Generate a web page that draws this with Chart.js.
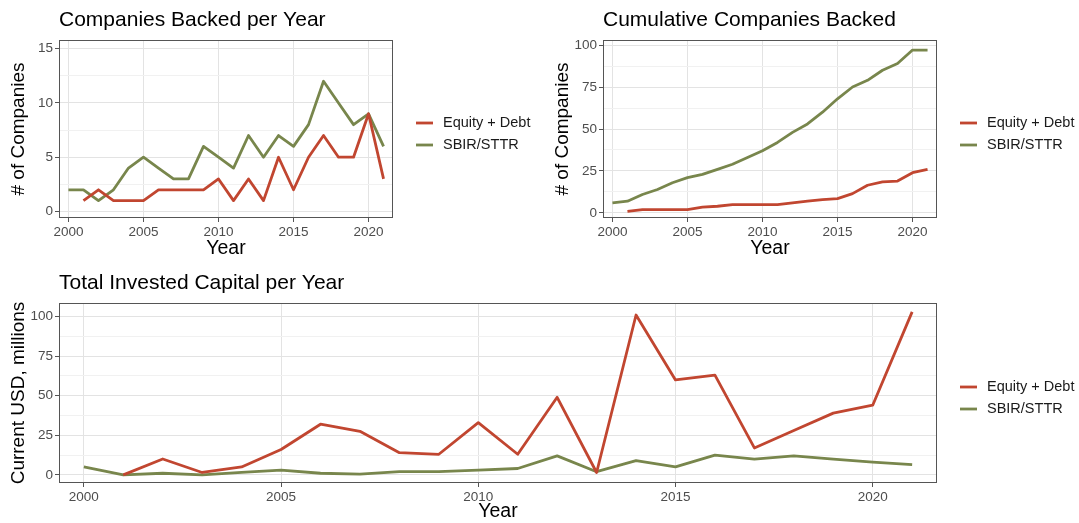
<!DOCTYPE html>
<html>
<head>
<meta charset="utf-8">
<title>Companies backed and invested capital</title>
<script src="https://cdn.jsdelivr.net/npm/chart.js@4.4.0/dist/chart.umd.min.js"></script>
<style>
    body { margin: 0; background: #fff; }
    .panel { position: absolute; }
</style>
</head>
<body>
<div class="panel" style="left:0;top:0;width:545px;height:265px"><canvas id="chart-per-year"></canvas></div>
<div class="panel" style="left:545px;top:0;width:534px;height:265px"><canvas id="chart-cumulative"></canvas></div>
<div class="panel" style="left:0;top:265px;width:1079px;height:258px"><canvas id="chart-capital"></canvas></div>
<script>
const years = [2000, 2001, 2002, 2003, 2004, 2005, 2006, 2007, 2008, 2009, 2010,
    2011, 2012, 2013, 2014, 2015, 2016, 2017, 2018, 2019, 2020, 2021];
const yearTicks = [2000, 2005, 2010, 2015, 2020];
const seriesNames = ['Equity + Debt', 'SBIR/STTR'];

const companiesEquity = [null, 1, 2, 1, 1, 1, 2, 2, 2, 2, 3, 1, 3, 1, 5, 2, 5, 7, 5, 5, 9, 3];
const companiesSbir = [2, 2, 1, 2, 4, 5, 4, 3, 3, 6, 5, 4, 7, 5, 7, 6, 8, 12, 10, 8, 9, 6];
const companiesTicks = [0, 5, 10, 15];

const cumulativeEquity = [null, 1, 2, 2, 2, 2, 3.5, 4, 5, 5, 5, 5, 6, 7, 8, 8.5, 11.5, 16.5, 18.5, 19, 24, 26];
const cumulativeSbir = [6, 7, 11, 14, 18, 21, 23, 26, 29, 33, 37, 42, 48, 53, 60, 68, 75, 79, 85, 89, 97, 97];
const cumulativeTicks = [0, 25, 50, 75, 100];

const capitalEquity = [null, 0, 10, 1.5, 5, 16, 32, 27.5, 14, 13, 33, 13, 49, 1.5, 101, 60, 63, 17, 28, 39, 44, 103];
const capitalSbir = [5, 0, 1, 0, 1.5, 3, 1, 0.5, 2, 2, 3, 4, 12, 2, 9, 5, 12.5, 10, 12, 10, 8, 6.5];
const capitalTicks = [0, 25, 50, 75, 100];

const red = 'rgb(193, 70, 48)';
const green = 'rgb(120, 134, 76)';
const fontFamily = "'Liberation Sans', Arial, sans-serif";

Chart.defaults.font.family = fontFamily;

// dark frame round the panel, like theme_bw
const framePlugin = {
    id: 'frame',
    afterDraw(chart) {
        const a = chart.chartArea;
        const ctx = chart.ctx;
        ctx.save();
        ctx.strokeStyle = '#555';
        ctx.lineWidth = 1;
        ctx.strokeRect(Math.round(a.left) + 0.5, Math.round(a.top) + 0.5,
            Math.round(a.right - a.left) - 1, Math.round(a.bottom - a.top) - 1);
        ctx.restore();
    }
};

// ggplot style legend to the right of the panel
const sideLegend = {
    id: 'sideLegend',
    afterDraw(chart) {
        const a = chart.chartArea;
        const ctx = chart.ctx;
        const x = a.right + 23;
        let y = (a.top + a.bottom) / 2 - 6;
        ctx.save();
        ctx.font = '14.5px ' + fontFamily;
        ctx.textBaseline = 'middle';
        chart.data.datasets.forEach(ds => {
            ctx.strokeStyle = ds.borderColor;
            ctx.lineWidth = 2.8;
            ctx.beginPath();
            ctx.moveTo(x, y);
            ctx.lineTo(x + 17, y);
            ctx.stroke();
            ctx.fillStyle = '#1a1a1a';
            ctx.fillText(ds.label, x + 27, y);
            y += 22;
        });
        ctx.restore();
    }
};

function points(values) {
    return years.map((yr, i) => ({ x: yr, y: values[i] }));
}

function withMinor(major) {
    const ticks = [];
    major.forEach((v, i) => {
        ticks.push({ value: v });
        if (i < major.length - 1) ticks.push({ value: (v + major[i + 1]) / 2, minor: true });
    });
    return ticks;
}

function makeDatasets(equity, sbir) {
    return [
        { label: seriesNames[0], data: points(equity), borderColor: red, backgroundColor: red },
        { label: seriesNames[1], data: points(sbir), borderColor: green, backgroundColor: green }
    ].map(ds => Object.assign(ds, {
        borderWidth: 2.8, pointRadius: 0, tension: 0, borderJoinStyle: 'round', spanGaps: false
    }));
}

function panelOptions(cfg) {
    return {
        responsive: true,
        maintainAspectRatio: false,
        animation: false,
        layout: { padding: cfg.padding },
        plugins: {
            legend: { display: false },
            tooltip: { enabled: false },
            title: {
                display: true,
                text: cfg.title,
                align: 'start',
                fullSize: false,
                color: '#000',
                font: { size: 21, weight: 'normal' },
                padding: cfg.titlePadding
            }
        },
        scales: {
            x: {
                type: 'linear',
                min: 1999.37,
                max: 2021.63,
                afterBuildTicks: s => { s.ticks = yearTicks.map(v => ({ value: v })); },
                afterFit: s => { s.height = cfg.xHeight; },
                border: { display: false },
                grid: { color: '#e3e3e3', lineWidth: 1, tickColor: '#555', tickLength: 4 },
                ticks: {
                    color: '#4d4d4d', font: { size: 13.5 }, padding: 2,
                    maxRotation: 0, autoSkip: false, callback: v => v
                },
                title: { display: true, text: 'Year', color: '#000', font: { size: 19.5 }, padding: 0 }
            },
            y: {
                min: cfg.yMin,
                max: cfg.yMax,
                afterBuildTicks: s => { s.ticks = withMinor(cfg.yTicks); },
                afterFit: s => { s.width = 52; },
                border: { display: false },
                grid: {
                    color: c => c.tick && c.tick.minor ? '#f1f1f1' : '#e3e3e3',
                    lineWidth: 1,
                    tickColor: c => c.tick && c.tick.minor ? 'rgba(0,0,0,0)' : '#555',
                    tickLength: 4
                },
                ticks: {
                    color: '#4d4d4d', font: { size: 13.5 }, padding: 2, autoSkip: false,
                    callback: (v, i, ticks) => ticks[i].minor ? '' : v
                },
                title: { display: true, text: cfg.yTitle, color: '#000', font: { size: 19 }, padding: 0 }
            }
        }
    };
}

window.addEventListener('load', onLoad);

function onLoad() {
    new Chart(document.getElementById('chart-per-year'), {
        type: 'line',
        data: { datasets: makeDatasets(companiesEquity, companiesSbir) },
        options: panelOptions({
            title: 'Companies Backed per Year',
            yTitle: '# of Companies',
            yTicks: companiesTicks,
            yMin: -0.6,
            yMax: 15.8,
            padding: { left: 7, right: 152, top: 0, bottom: 5 },
            titlePadding: { top: 7.5, bottom: 7.3 },
            xHeight: 42
        }),
        plugins: [framePlugin, sideLegend]
    });

    new Chart(document.getElementById('chart-cumulative'), {
        type: 'line',
        data: { datasets: makeDatasets(cumulativeEquity, cumulativeSbir) },
        options: panelOptions({
            title: 'Cumulative Companies Backed',
            yTitle: '# of Companies',
            yTicks: cumulativeTicks,
            yMin: -3,
            yMax: 103,
            padding: { left: 6, right: 142, top: 0, bottom: 5 },
            titlePadding: { top: 7.5, bottom: 7.3 },
            xHeight: 42
        }),
        plugins: [framePlugin, sideLegend]
    });

    new Chart(document.getElementById('chart-capital'), {
        type: 'line',
        data: { datasets: makeDatasets(capitalEquity, capitalSbir) },
        options: panelOptions({
            title: 'Total Invested Capital per Year',
            yTitle: 'Current USD, millions',
            yTicks: capitalTicks,
            yMin: -5.15,
            yMax: 108.6,
            padding: { left: 7, right: 142, top: 0, bottom: 0 },
            titlePadding: { top: 5.8, bottom: 7 },
            xHeight: 40
        }),
        plugins: [framePlugin, sideLegend]
    });
}
</script>
</body>
</html>
